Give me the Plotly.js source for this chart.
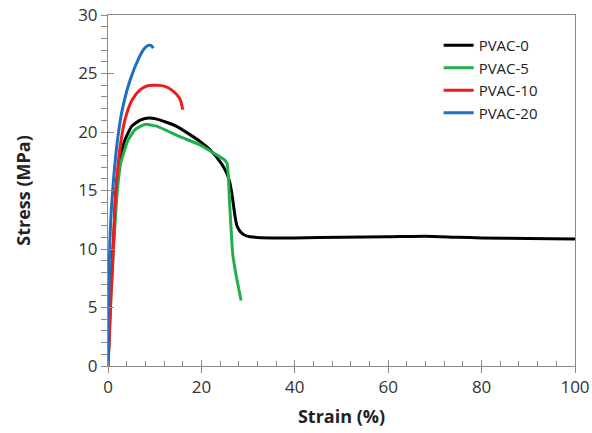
<!DOCTYPE html>
<html>
<head>
<meta charset="utf-8">
<script src="https://cdn.plot.ly/plotly-3.0.1.min.js"></script>
<style>html,body{margin:0;padding:0;background:#fff;}#chart{width:592px;height:433px;}</style>
</head>
<body>
<div id="chart"></div>
<script>
// Strain (%) and Stress (MPa)
var pvac0X = [0, 0.5, 1.3, 1.7, 2.4, 3.6, 5.1, 6.8, 8.6, 10.5, 14.6, 19.7, 21.8, 24.3, 25.4, 26.0, 26.5, 27.2, 27.6, 28.3, 29.2, 30.4, 35, 40, 50, 60, 68, 75, 80, 90, 100];
var pvac0Y = [0, 6.0, 11.6, 15.0, 17.3, 19.3, 20.5, 21.0, 21.2, 21.1, 20.5, 19.2, 18.5, 17.3, 16.5, 15.8, 14.8, 12.8, 12.0, 11.5, 11.2, 11.05, 10.95, 10.95, 11.0, 11.05, 11.1, 11.0, 10.95, 10.9, 10.85];

var pvac5X = [0, 0.5, 1.0, 2.0, 2.7, 4.3, 5.8, 7.9, 10.4, 15.4, 19.7, 22.6, 25.0, 25.5, 25.8, 26.0, 26.2, 26.4, 26.7, 27.5, 28.5];
var pvac5Y = [0, 5.0, 8.8, 15.0, 17.3, 19.3, 20.2, 20.65, 20.5, 19.6, 18.9, 18.2, 17.6, 17.3, 16.0, 14.2, 12.8, 11.4, 9.6, 7.6, 5.6];

var pvac10X = [0, 0.3, 0.6, 1.0, 1.7, 2.6, 3.6, 5.1, 6.85, 8.5, 10.4, 12.2, 13.6, 15.3, 16.0];
var pvac10Y = [0, 2.5, 5.6, 8.8, 15.0, 18.7, 21.0, 22.7, 23.6, 23.95, 24.0, 23.9, 23.6, 22.9, 21.9];

var pvac20X = [0, 0.1, 0.28, 0.6, 1.0, 1.85, 2.9, 4.7, 6.7, 7.7, 8.6, 9.2, 9.7];
var pvac20Y = [0, 3.5, 8.8, 12.5, 15.0, 18.7, 21.6, 24.4, 26.4, 27.1, 27.4, 27.4, 27.15];

var seriesNames = ['PVAC-0', 'PVAC-5', 'PVAC-10', 'PVAC-20'];
var seriesColors = ['#000000', '#1fb04b', '#ee1c1c', '#1f6fc0'];
var seriesSmoothing = [0.5, 0.5, 0.9, 0.9];

var xs = [pvac0X, pvac5X, pvac10X, pvac20X];
var ys = [pvac0Y, pvac5Y, pvac10Y, pvac20Y];

var traces = [];
for (var i = 0; i < 4; i++) {
  traces.push({
    x: xs[i], y: ys[i], type: 'scatter', mode: 'lines', name: seriesNames[i],
    line: {color: seriesColors[i], width: 3, shape: 'spline', smoothing: seriesSmoothing[i]}
  });
}
traces.push({x: [null], y: [null], xaxis: 'x2', yaxis: 'y2', showlegend: false, hoverinfo: 'skip', mode: 'lines'});

var axisCol = '#8a8a8a';
var tickFont = {family: 'Open Sans, sans-serif', size: 17, color: '#333333'};
var titleFont = {family: 'Open Sans, sans-serif', size: 18, color: '#222222', weight: 'bold'};

var layout = {
  width: 592, height: 433,
  margin: {l: 108, r: 17, t: 15, b: 67},
  paper_bgcolor: '#ffffff', plot_bgcolor: '#ffffff',
  showlegend: true,
  legend: {x: 0.708, y: 0.96, xanchor: 'left', yanchor: 'top', bgcolor: 'rgba(0,0,0,0)',
           font: {family: 'Open Sans, sans-serif', size: 15, color: '#222222'}, itemwidth: 30, tracegroupgap: 0},
  xaxis: {
    range: [0, 100], dtick: 20, tick0: 0, showgrid: false, zeroline: false,
    showline: true, linecolor: axisCol, linewidth: 1, mirror: true,
    ticks: 'outside', ticklen: 6, tickcolor: axisCol, tickwidth: 1,
    minor: {dtick: 4, ticks: 'inside', ticklen: 5, tickcolor: axisCol, showgrid: false},
    tickfont: tickFont,
    title: {text: 'Strain (%)', font: titleFont, standoff: 12}
  },
  yaxis: {
    range: [0, 30], dtick: 5, tick0: 0, showgrid: false, zeroline: false,
    showline: true, linecolor: axisCol, linewidth: 1, mirror: true,
    ticks: 'outside', ticklen: 6, tickcolor: axisCol, tickwidth: 1,
    minor: {dtick: 1, ticks: 'outside', ticklen: 6, tickcolor: axisCol, showgrid: false},
    tickfont: tickFont,
    title: {text: 'Stress (MPa)', font: titleFont, standoff: 42}
  },
  xaxis2: {overlaying: 'x', anchor: 'y', side: 'bottom', range: [0, 100], dtick: 20, tick0: 0,
           ticks: 'inside', ticklen: 6, tickcolor: axisCol, showticklabels: false, showgrid: false,
           zeroline: false, showline: false},
  yaxis2: {overlaying: 'y', anchor: 'x', side: 'left', range: [0, 30], dtick: 5, tick0: 0,
           ticks: 'inside', ticklen: 6, tickcolor: axisCol, showticklabels: false, showgrid: false,
           zeroline: false, showline: false}
};

Plotly.newPlot('chart', traces, layout, {displayModeBar: false, staticPlot: true});
</script>
</body>
</html>
